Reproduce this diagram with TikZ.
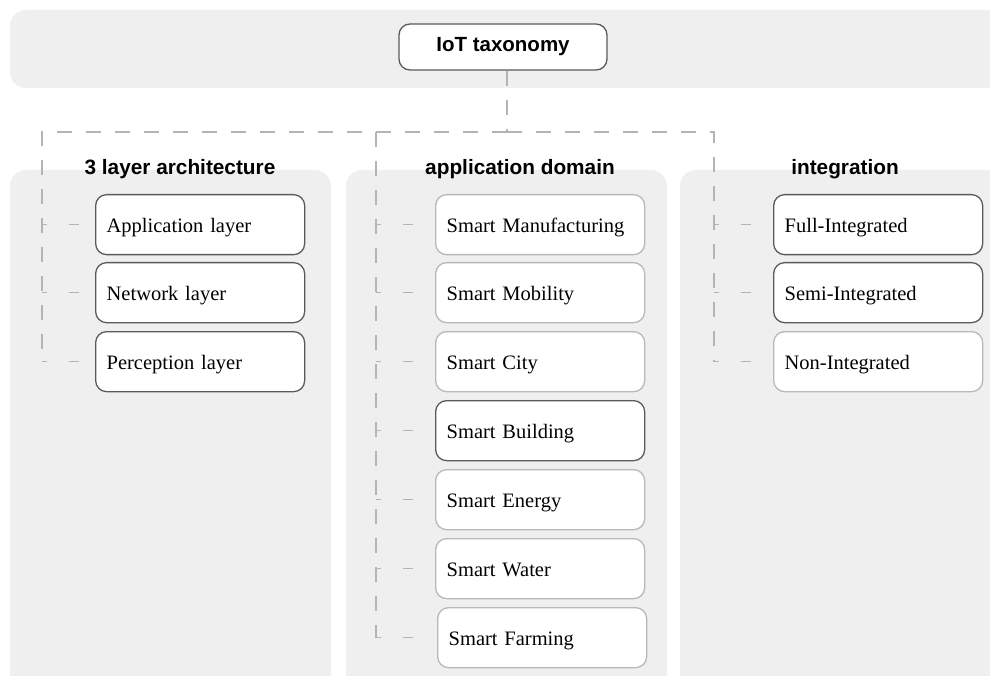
\documentclass[tikz,border=0pt]{standalone}
\usepackage{fontspec}
\setmainfont{Liberation Serif}
\setsansfont{Liberation Sans}
\definecolor{panelgray}{HTML}{EFEFEF}
\definecolor{boxdark}{HTML}{5A5A5A}
\definecolor{boxlight}{HTML}{B8B8B8}
\definecolor{dashgray}{HTML}{B4B4B4}
\begin{document}
\begin{tikzpicture}[x=1pt,y=-1pt,
  panel/.style={fill=panelgray, rounded corners=16pt},
  box/.style={draw, rounded corners=11pt, fill=white, line width=1.3pt,
    minimum height=60pt, text width=187pt, inner xsep=11pt, inner ysep=0pt,
    align=left, font=\fontsize{20.5}{23}\selectfont, text height=16pt, text depth=1pt,
    anchor=north west},
  dk/.style={draw=boxdark},
  lt/.style={draw=boxlight},
  head/.style={font=\sffamily\bfseries\fontsize{20.8}{23}\selectfont, anchor=base, inner sep=0pt},
  trunk/.style={draw=dashgray, line width=1.1pt, dash pattern=on 15pt off 14pt},
  branch/.style={draw=dashgray, line width=1.1pt, dash pattern=on 5pt off 22pt on 10pt off 40pt}
]
\useasboundingbox (0,0) rectangle (990,676);
% background panels
\fill[panel] (10,10) rectangle (1020,88);
\fill[panel] (10,170) rectangle (331,700);
\fill[panel] (346,170) rectangle (667,700);
\fill[panel] (680,170) rectangle (1020,700);

% root
\node[draw=boxdark, rounded corners=11pt, fill=white, line width=1.3pt,
  minimum width=208pt, minimum height=46pt, inner sep=0pt,
  font=\sffamily\bfseries\fontsize{20.5}{23}\selectfont] (root) at (503,47) {IoT taxonomy};

% headings
\node[head] (hL) at (180,175) {3 layer architecture};
\node[head] (hM) at (520,175) {application domain};
\node[head] (hR) at (845,175) {integration};

% left column
\node[box,dk] (l1) at (95,194) {Application layer};
\node[box,dk] (l2) at (95,262) {Network layer};
\node[box,dk] (l3) at (95,331) {Perception layer};

% middle column
\node[box,lt] (m1) at (435,194) {Smart Manufacturing};
\node[box,lt] (m2) at (435,262) {Smart Mobility};
\node[box,lt] (m3) at (435,331) {Smart City};
\node[box,dk] (m4) at (435,400) {Smart Building};
\node[box,lt] (m5) at (435,469) {Smart Energy};
\node[box,lt] (m6) at (435,538) {Smart Water};
\node[box,lt] (m7) at (437,607) {Smart Farming};

% right column
\node[box,dk] (r1) at (773,194) {Full-Integrated};
\node[box,dk] (r2) at (773,262) {Semi-Integrated};
\node[box,lt] (r3) at (773,331) {Non-Integrated};

% connectors
\coordinate (j) at (507,132);
\coordinate (cL) at (42,0);
\coordinate (cM) at (376,0);
\coordinate (cR) at (714,0);
\draw[trunk] (j |- root.south) -- (j);
\draw[trunk] (j) -| (cL |- l3.west);
\draw[trunk] (j) -| (cR |- r3.west);
\draw[trunk] (cM |- j) -- (cM |- m7.west);

\foreach \n in {l1,l2,l3} \draw[branch] (cL |- \n.west) -- (\n.west);
\foreach \n in {m1,m2,m3,m4,m5,m6,m7} \draw[branch] (cM |- \n.west) -- (\n.west);
\foreach \n in {r1,r2,r3} \draw[branch] (cR |- \n.west) -- (\n.west);
\end{tikzpicture}
\end{document}
